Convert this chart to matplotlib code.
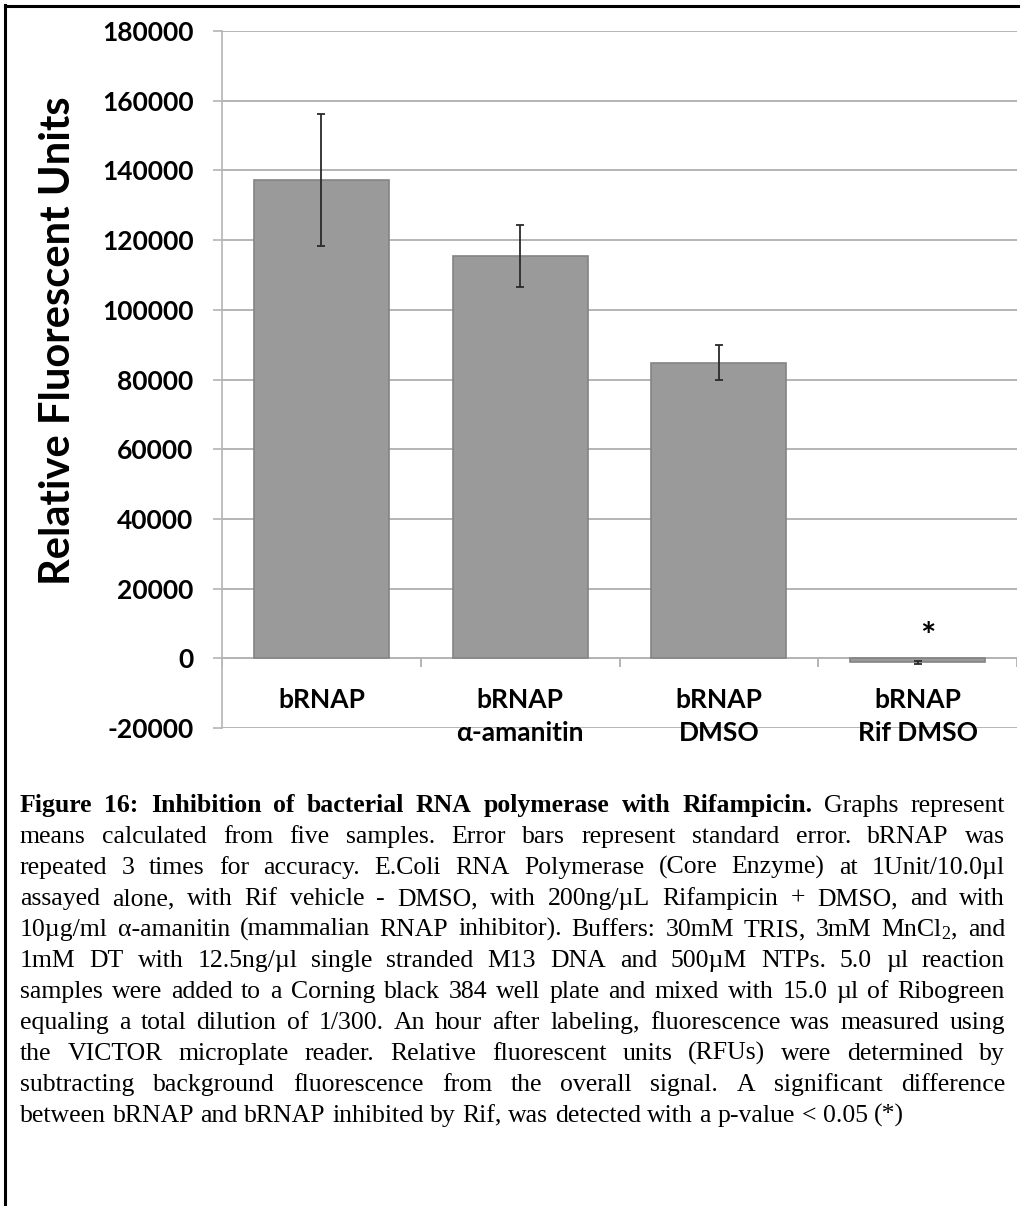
import numpy as np
import matplotlib
matplotlib.use("Agg")
import matplotlib.pyplot as plt
from matplotlib.lines import Line2D

# bar data (relative fluorescent units, mean +/- standard error)
groups = ["bRNAP", "bRNAP\nα-amanitin", "bRNAP\nDMSO", "bRNAP\nRif DMSO"]
rfu_mean = [137200, 115300, 84600, -1200]
rfu_err_hi = [156200, 124300, 89900, -800]
rfu_err_lo = [118400, 106600, 79800, -1600]
y_ticks = [-20000, 0, 20000, 40000, 60000, 80000, 100000, 120000, 140000, 160000, 180000]

caption_lines = [
  "Figure 16: Inhibition of bacterial RNA polymerase with Rifampicin. Graphs represent",
  "means calculated from five samples. Error bars represent standard error. bRNAP was",
  "repeated 3 times for accuracy. E.Coli RNA Polymerase (Core Enzyme) at 1Unit/10.0µl",
  "assayed alone, with Rif vehicle - DMSO, with 200ng/µL Rifampicin + DMSO, and with",
  "10µg/ml α-amanitin (mammalian RNAP inhibitor). Buffers: 30mM TRIS, 3mM MnCl$_2$, and",
  "1mM DT with 12.5ng/µl single stranded M13 DNA and 500µM NTPs. 5.0 µl reaction",
  "samples were added to a Corning black 384 well plate and mixed with 15.0 µl of Ribogreen",
  "equaling a total dilution of 1/300. An hour after labeling, fluorescence was measured using",
  "the VICTOR microplate reader. Relative fluorescent units (RFUs) were determined by",
  "subtracting background fluorescence from the overall signal. A significant difference",
  "between bRNAP and bRNAP inhibited by Rif, was detected with a p-value < 0.05 (*)",
]
n_bold_words = 9  # "Figure 16: ... Rifampicin."

plt.rcParams['mathtext.fontset'] = 'custom'
plt.rcParams['mathtext.rm'] = 'Liberation Serif'
plt.rcParams['mathtext.it'] = 'Liberation Serif:italic'
plt.rcParams['mathtext.bf'] = 'Liberation Serif:bold'

W, H = 1023, 1206
DPI = 100
fig = plt.figure(figsize=(W / DPI, H / DPI), dpi=DPI)

def px(x, y):
  return x / W, 1 - y / H

ax = fig.add_axes([222 / W, 1 - 728 / H, (1017 - 222) / W, (728 - 31) / H])

grid_c = '#b4b4b4'
x = np.arange(len(groups))
mean = np.array(rfu_mean)
yerr = [mean - np.array(rfu_err_lo), np.array(rfu_err_hi) - mean]

ax.bar(x, mean, width=0.68, color='#9a9a9a', edgecolor='#848484', linewidth=1.2, zorder=3)
ax.errorbar(x, mean, yerr=yerr, fmt='none', ecolor='#2a2a2a', elinewidth=1.3,
            capsize=3.2, capthick=1.3, zorder=4)

ax.set_xlim(-0.5, len(groups) - 0.5)
ax.set_ylim(y_ticks[0], y_ticks[-1])
ax.set_yticks(y_ticks)
ax.set_yticklabels([str(v) for v in y_ticks], family='Lato', weight='bold', fontsize=19)
ax.tick_params(axis='y', length=6.5, width=1.2, color=grid_c, pad=14)
ax.set_xticks([])
ax.yaxis.grid(True, color=grid_c, linewidth=1.4, zorder=0)
for s in ['top', 'right', 'bottom']:
  ax.spines[s].set_visible(False)
ax.spines['left'].set_color(grid_c)
ax.spines['left'].set_linewidth(1.2)

# category axis drawn at zero, with tick marks between groups
ax.axhline(0, color=grid_c, linewidth=1.4, zorder=2)
ax.vlines(np.arange(len(groups) + 1) - 0.5, -2600, 0, color=grid_c, linewidth=1.4, zorder=2)

for i, g in enumerate(groups):
  ax.text(i, -8400, g, ha='center', va='top', family='Lato', weight='bold',
          fontsize=19, linespacing=1.45, zorder=5)

ax.text(3.05, 1200, '*', ha='center', va='bottom', family='Lato', weight='bold', fontsize=26)

ax.set_ylabel('Relative Fluorescent Units', family='Lato', weight='bold', fontsize=30)
ax.yaxis.set_label_coords(-0.182, 0.555)

# frame lines on the left and top edges
fig.add_artist(Line2D([5 / W, 5 / W], [0, 1 - 5 / H], transform=fig.transFigure, color='black', lw=2.2))
fig.add_artist(Line2D([5 / W, 1018 / W], [1 - 6 / H, 1 - 6 / H], transform=fig.transFigure, color='black', lw=2.2))

# justified caption, laid out word by word
renderer = fig.canvas.get_renderer()
cap_kw = dict(family='Liberation Serif', fontsize=18.5, va='baseline', ha='left')
left, right = 20, 1005

def text_width(s, **kw):
  t = fig.text(0, 0, s, **kw)
  w = t.get_window_extent(renderer).width
  t.remove()
  return w

space_w = text_width('x x', **cap_kw) - text_width('xx', **cap_kw)

for li, line in enumerate(caption_lines):
  words = line.split(' ')
  weights = ['normal'] * len(words)
  if li == 0:
    weights[:n_bold_words] = ['bold'] * n_bold_words
  widths = [text_width(w, weight=wt, **cap_kw) for w, wt in zip(words, weights)]
  if li < len(caption_lines) - 1:
    gap = (right - left - sum(widths)) / (len(words) - 1)
  else:
    gap = space_w
  xpos = left
  ybase = 812 + 31 * li
  for w, wt, ww in zip(words, weights, widths):
    fx, fy = px(xpos, ybase)
    fig.text(fx, fy, w, weight=wt, **cap_kw)
    xpos += ww + gap

fig.savefig('out.png', dpi=DPI)
